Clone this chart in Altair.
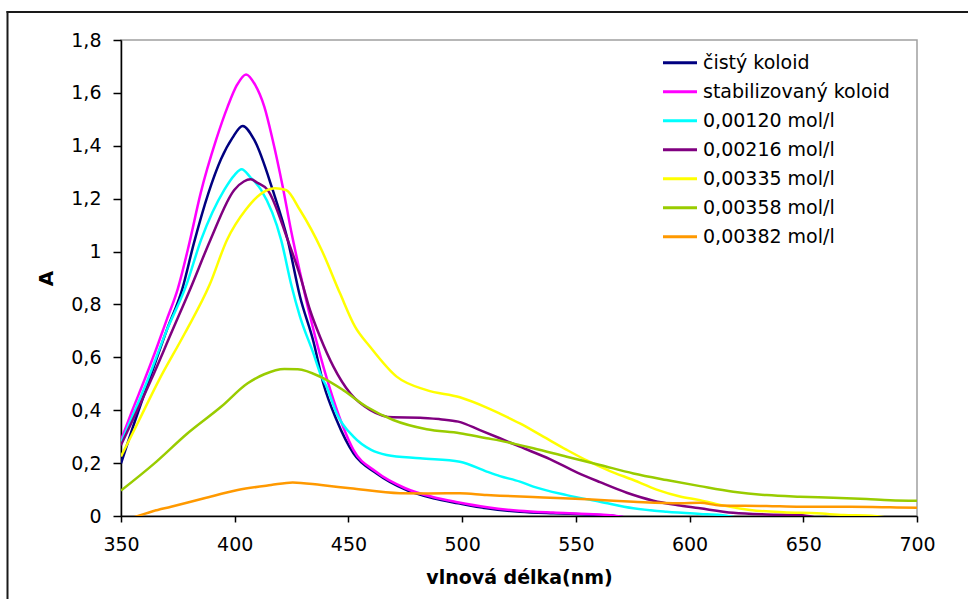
import altair as alt
import pandas as pd

series_names = ["čistý koloid", "stabilizovaný koloid", "0,00120 mol/l", "0,00216 mol/l",
                "0,00335 mol/l", "0,00358 mol/l", "0,00382 mol/l"]
colors = ["#000080", "#FF00FF", "#00FFFF", "#800080", "#FFFF00", "#99CC00", "#FF9900"]

wl_cisty = [350, 355, 362.4, 370, 377, 382, 388.4, 394, 399, 403.5, 408.6, 416.7, 423.3, 428.7, 434.6,
            439, 444.8, 452.2, 462.4, 475.6, 487.3, 498.3, 510.8, 525.4, 540, 555, 565, 575]
a_cisty = [0.199, 0.33, 0.514, 0.70, 0.86, 1.03, 1.22, 1.35, 1.43, 1.475, 1.422, 1.233, 1.044, 0.83, 0.66,
           0.50, 0.363, 0.237, 0.161, 0.098, 0.067, 0.048, 0.029, 0.016, 0.010, 0.006, 0.002, -0.01]

wl_stab = [350, 355, 360.3, 365, 370, 375, 380, 385, 391.8, 396.9, 401, 405, 409, 413, 416.7, 421, 425,
           429, 433, 437.5, 443.4, 448, 452.2, 462, 475, 487, 498, 511, 525, 540, 555, 565, 575]
a_stab = [0.287, 0.40, 0.514, 0.62, 0.74, 0.86, 1.03, 1.22, 1.422, 1.548, 1.63, 1.670, 1.63, 1.548, 1.422, 1.25, 1.07,
          0.91, 0.76, 0.61, 0.44, 0.33, 0.250, 0.168, 0.105, 0.072, 0.052, 0.033, 0.020, 0.013, 0.008, 0.003, -0.01]

wl_120 = [350, 361.7, 370, 378.6, 385.2, 395.4, 400, 403, 407, 411.6, 420.4, 425, 428.7, 434.6, 438, 440.4,
          444.8, 452.2, 460, 466.8, 481.5, 499, 510.8, 516.6, 525.4, 531.3, 546, 560.6, 575.3, 589.9,
          604.6, 613.4, 620]
a_120 = [0.277, 0.514, 0.70, 0.87, 1.044, 1.233, 1.29, 1.311, 1.28, 1.233, 1.044, 0.87, 0.754, 0.615, 0.53, 0.489,
         0.388, 0.300, 0.25, 0.231, 0.218, 0.205, 0.168, 0.151, 0.130, 0.111, 0.079, 0.054, 0.029, 0.016,
         0.008, 0.004, -0.005]

wl_216 = [350, 363.2, 372, 381, 389.3, 399.8, 404, 407, 410, 414.5, 423.3, 428.7, 433.1, 437.5, 443.4,
          450.8, 459.5, 469.7, 481.5, 490.3, 498.3, 507.8, 516.6, 525.4, 538.6, 550.4, 560.6, 572.4, 584.1,
          595.8, 604.6, 619.2, 633.9, 648.6, 655]
a_216 = [0.268, 0.514, 0.69, 0.87, 1.044, 1.233, 1.265, 1.273, 1.26, 1.233, 1.044, 0.91, 0.779, 0.678, 0.565,
         0.464, 0.401, 0.373, 0.372, 0.366, 0.357, 0.325, 0.294, 0.262, 0.215, 0.165, 0.128, 0.088, 0.058,
         0.040, 0.029, 0.012, 0.006, 0.004, -0.005]

wl_335 = [350, 358, 366.7, 378, 389, 396.6, 405, 411, 417.7, 422.5, 428.7, 438.2, 446.3, 452.9, 459.5,
          471.2, 484.4, 499, 510.8, 516.6, 525.4, 535.7, 546, 554.8, 565, 575.3, 585.5, 595.8, 604.6,
          613.4, 626.6, 641.3, 655.9, 667.7, 680, 686]
a_335 = [0.225, 0.363, 0.514, 0.69, 0.875, 1.044, 1.16, 1.215, 1.239, 1.233, 1.157, 1.006, 0.842, 0.716, 0.640,
         0.527, 0.476, 0.449, 0.410, 0.387, 0.350, 0.300, 0.250, 0.210, 0.170, 0.136, 0.100, 0.074, 0.060,
         0.042, 0.023, 0.014, 0.010, 0.004, 0.001, -0.005]

wl_358 = [350, 364.7, 379.3, 394, 405.7, 413, 421.8, 427.7, 438, 447.7, 458, 469.7, 484.4, 499, 510.8,
          516.6, 525.4, 531.3, 546, 560.6, 575.3, 589.9, 604.6, 619.2, 633.9, 648.6, 663.2, 677.9, 688.2, 700]
a_358 = [0.096, 0.199, 0.313, 0.413, 0.502, 0.536, 0.556, 0.555, 0.525, 0.476, 0.413, 0.363, 0.328, 0.313, 0.294,
         0.285, 0.268, 0.256, 0.224, 0.193, 0.161, 0.136, 0.113, 0.092, 0.079, 0.073, 0.069, 0.064, 0.060, 0.058]

wl_382 = [350, 357.5, 364, 372, 386.6, 401.3, 416, 425.5, 438, 450.8, 472.7, 485, 499, 510.8, 516.6,
          535.7, 555, 575.3, 595.8, 604.6, 613.4, 633.9, 648.6, 670.6, 688.2, 700]
a_382 = [-0.02, 0.0, 0.018, 0.035, 0.067, 0.098, 0.117, 0.127, 0.117, 0.105, 0.086, 0.085, 0.086, 0.079, 0.077,
         0.070, 0.063, 0.054, 0.048, 0.050, 0.040, 0.038, 0.035, 0.035, 0.033, 0.031]

x_ticks = [350, 400, 450, 500, 550, 600, 650, 700]
y_ticks = [0, 0.2, 0.4, 0.6, 0.8, 1.0, 1.2, 1.4, 1.6, 1.8]

wls = [wl_cisty, wl_stab, wl_120, wl_216, wl_335, wl_358, wl_382]
vals = [a_cisty, a_stab, a_120, a_216, a_335, a_358, a_382]
rows = []
for name, wl, av in zip(series_names, wls, vals):
    for w, v in zip(wl, av):
        rows.append({"wl": w, "A": v, "serie": name})
df = pd.DataFrame(rows)

FONT = "DejaVu Sans"

lines = alt.Chart(df).mark_line(strokeWidth=2.5, interpolate="monotone", clip=True).encode(
    x=alt.X("wl:Q",
            scale=alt.Scale(domain=[350, 700], nice=False, zero=False),
            axis=alt.Axis(values=x_ticks, title="vlnová délka(nm)", tickSize=6, labelPadding=13,
                          labelFlush=False, titleY=67, titleBaseline="alphabetic", format="d")),
    y=alt.Y("A:Q",
            scale=alt.Scale(domain=[0, 1.8], nice=False),
            axis=alt.Axis(values=y_ticks, title="A", tickSize=8, labelPadding=12,
                          labelExpr="replace(format(datum.value, '.1~f'), '.', ',')",
                          titleX=-69, titleY=238, titleBaseline="alphabetic", titleFontSize=20)),
    color=alt.Color("serie:N", sort=series_names,
                    scale=alt.Scale(domain=series_names, range=colors),
                    legend=alt.Legend(title=None, orient="none", legendX=540.5, legendY=4.2, padding=0,
                                      symbolType="stroke", symbolSize=1156, symbolStrokeWidth=3,
                                      labelFont=FONT, labelFontSize=19, labelColor="black",
                                      rowPadding=-8.6, labelOffset=4.5, labelLimit=400)),
)

frame_df = pd.DataFrame({"k": [0]})
frame_v = alt.Chart(frame_df).mark_rule(color="#1a1a1a", strokeWidth=2).encode(
    x=alt.value(-113.5), y=alt.value(-29), y2=alt.value(600))
frame_h = alt.Chart(frame_df).mark_rule(color="#1a1a1a", strokeWidth=2).encode(
    x=alt.value(-114.5), x2=alt.value(900), y=alt.value(-28))

chart = alt.layer(lines, frame_v, frame_h).properties(
    width=796, height=476,
    autosize=alt.AutoSizeParams(type="none"),
    padding={"left": 121, "top": 40, "right": 51, "bottom": 83},
    background="white",
).configure_view(
    stroke="#a0a0a0", strokeWidth=1.5
).configure_axis(
    domainColor="black", domainWidth=1.5, tickColor="black", tickWidth=1.5,
    labelColor="black", labelFont=FONT, labelFontSize=19,
    titleFont=FONT, titleFontSize=19, titleFontWeight="bold", titleColor="black",
    grid=False,
)

chart.save("out.html", embed_options={"renderer": "svg", "actions": False})
